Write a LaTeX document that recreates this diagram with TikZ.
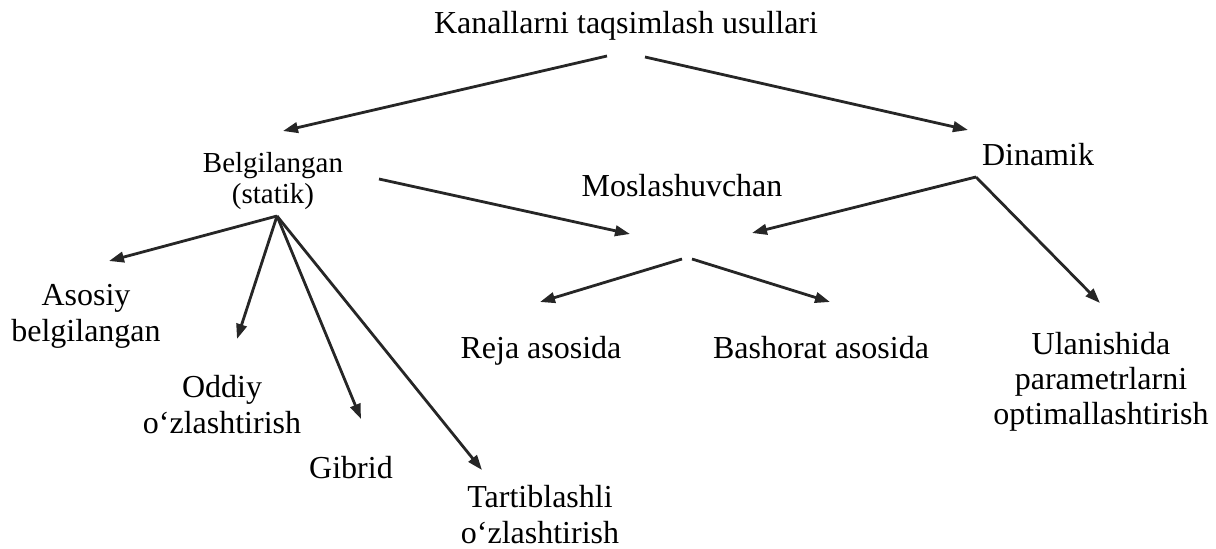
\documentclass[tikz,border=0pt]{standalone}
\usepackage{fontspec}
\setmainfont{Liberation Serif}
\usetikzlibrary{arrows.meta}
\begin{document}
\begin{tikzpicture}[x=1pt,y=-1pt,
  lbl/.style={inner sep=0pt, anchor=base, align=center, font=\fontsize{32}{36}\selectfont},
  lblsmall/.style={lbl, font=\fontsize{29}{31}\selectfont},
  lbltight/.style={lbl, font=\fontsize{32}{35}\selectfont},
  arr/.style={draw=black!85, line width=2.8pt, -{Triangle[length=15pt,width=10.5pt]}}]
\useasboundingbox (0,0) rectangle (1216,549);
% nodes (anchor = baseline of last line)
\node[lbl] (title) at (626,33) {Kanallarni taqsimlash usullari};
\node[lblsmall] (belg) at (273,203) {Belgilangan\\(statik)};
\node[lbl] (mosl) at (682,196) {Moslashuvchan};
\node[lbl] (din) at (1038,165) {Dinamik};
\node[lbl] (asos) at (86,341) {Asosiy\\belgilangan};
\node[lbl] (oddiy) at (222,433) {Oddiy\\o‘zlashtirish};
\node[lbl] (gib) at (351,478) {Gibrid};
\node[lbl] (tart) at (540,543) {Tartiblashli\\o‘zlashtirish};
\node[lbl] (reja) at (541,358) {Reja asosida};
\node[lbl] (bash) at (821,358) {Bashorat asosida};
\node[lbltight] (ulan) at (1101,424) {Ulanishida\\parametrlarni\\optimallashtirish};
% connector points
\coordinate (tL) at (607,56);
\coordinate (tR) at (645,57);
\coordinate (belgIn) at (283,131);
\coordinate (dinIn) at (968,130);
\coordinate (belgOut) at (379,179);
\coordinate (belgFork) at (277,216);
\coordinate (moslInA) at (630,234);
\coordinate (moslInB) at (752,233);
\coordinate (dinFork) at (976,177);
\coordinate (moslL) at (682,259);
\coordinate (moslR) at (692,259);
\coordinate (asosIn) at (109,261);
\coordinate (oddiyIn) at (237,339);
\coordinate (gibIn) at (361,419);
\coordinate (tartIn) at (482,470);
\coordinate (rejaIn) at (540,302);
\coordinate (bashIn) at (830,302);
\coordinate (ulanIn) at (1100,303);
% connectors
\draw[arr] (tL) -- (belgIn);
\draw[arr] (tR) -- (dinIn);
\draw[arr] (belgOut) -- (moslInA);
\draw[arr] (dinFork) -- (moslInB);
\draw[arr] (dinFork) -- (ulanIn);
\draw[arr] (moslL) -- (rejaIn);
\draw[arr] (moslR) -- (bashIn);
\draw[arr] (belgFork) -- (asosIn);
\draw[arr] (belgFork) -- (oddiyIn);
\draw[arr] (belgFork) -- (gibIn);
\draw[arr] (belgFork) -- (tartIn);
\end{tikzpicture}
\end{document}
